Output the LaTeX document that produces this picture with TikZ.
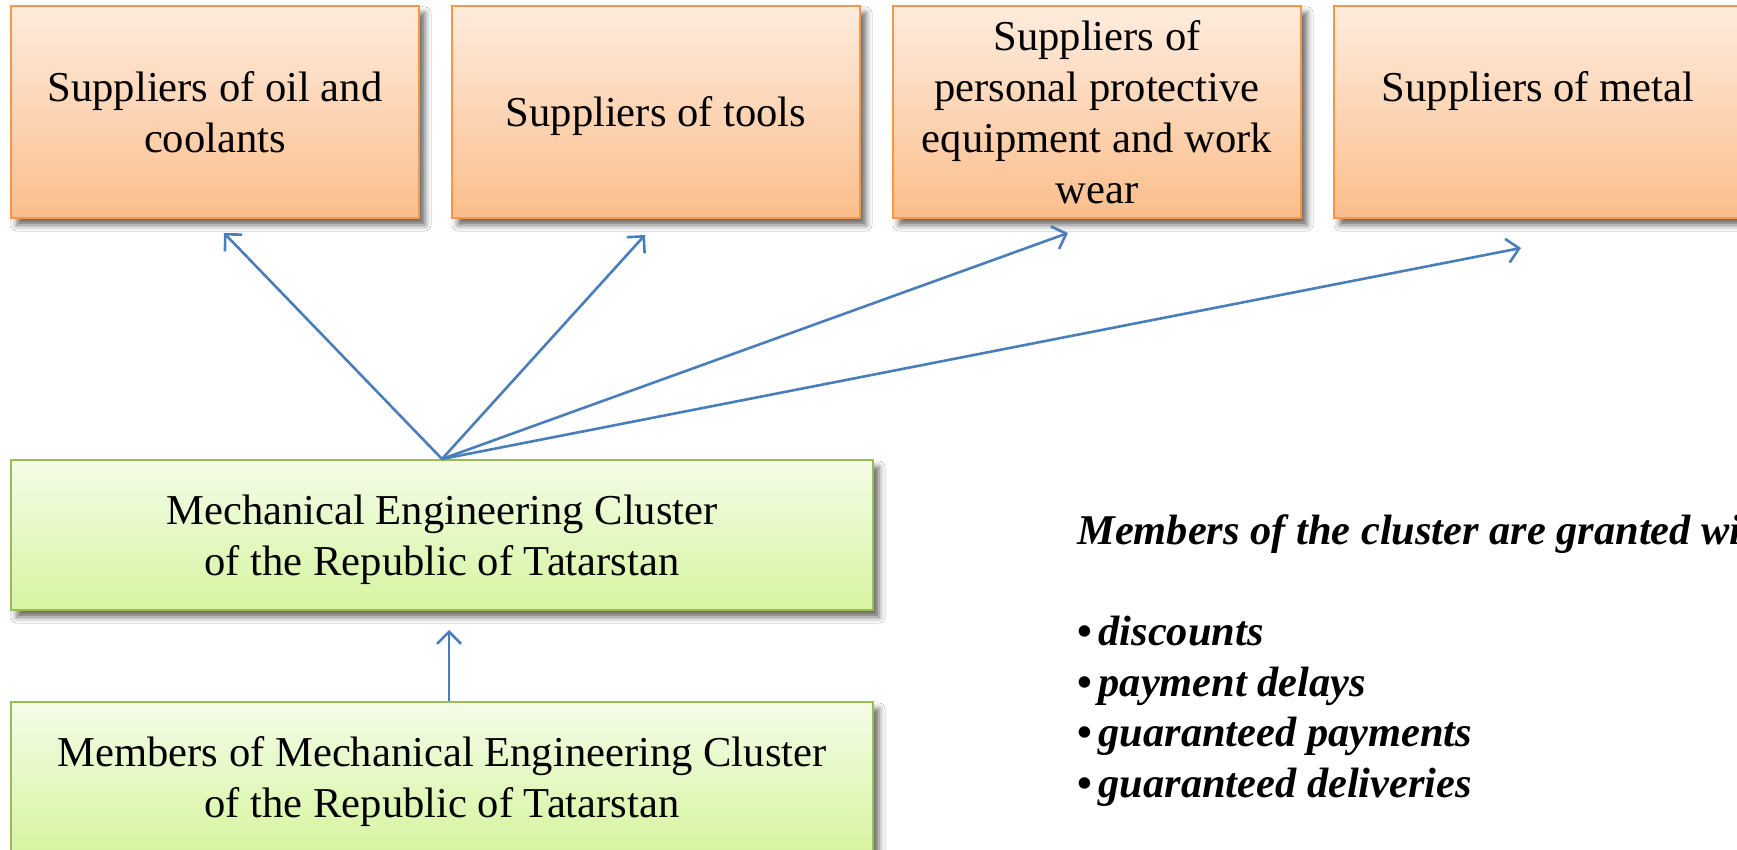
\documentclass[tikz,border=0pt]{standalone}
\usepackage{fontspec}
\setmainfont{Liberation Serif}
\usetikzlibrary{positioning}
\usetikzlibrary{arrows.meta}
\usetikzlibrary{shadows.blur}
\definecolor{supplyline}{HTML}{F79646}
\definecolor{supplytop}{RGB}{254,236,222}
\definecolor{supplybottom}{RGB}{251,190,140}
\definecolor{clusterline}{HTML}{9BBB59}
\definecolor{clustertop}{RGB}{244,252,232}
\definecolor{clusterbottom}{RGB}{214,245,160}
\definecolor{linkblue}{RGB}{74,126,187}
\tikzset{
    supplier/.style = {draw=supplyline, line width=1pt, 
                       top color=supplytop, bottom color=supplybottom,
                       minimum width=204pt, minimum height=106pt, 
                       inner sep=2pt, align=center, text depth=0pt,
                       font=\fontsize{21.3}{25.5}\selectfont,
                       blur shadow={shadow xshift=3pt, shadow yshift=-3.5pt,
                                    shadow blur radius=3pt, shadow opacity=60}
    },
    member box/.style = {draw=clusterline, line width=1pt, 
                         top color=clustertop, bottom color=clusterbottom,
                         minimum width=431pt, minimum height=75pt, 
                         inner sep=2pt, align=center, text depth=0pt,
                         font=\fontsize{21.3}{25.5}\selectfont,
                         blur shadow={shadow xshift=3pt, shadow yshift=-3.5pt,
                                      shadow blur radius=3pt, shadow opacity=60}
    },
    link/.style = {draw=linkblue, line width=1.3pt,
                   -{Straight Barb[length=6pt, width=12pt]}
    },
}

\begin{document}
\begin{tikzpicture}[x=0.5pt, y=-0.5pt]
    \clip (0,0) rectangle (1737,850);
    \fill[white] (0,0) rectangle (1737,850);
    % suppliers row
    \node (oil) [supplier] at (215,112) {Suppliers of oil and\\ coolants};
    \node (tools) [supplier, right=15.5pt of oil] {Suppliers of tools};
    \node (ppe) [supplier, right=15.5pt of tools] 
              {Suppliers of\\ personal protective\\ equipment and work\\ wear};
    \node (metal) [supplier, right=15.5pt of ppe] {Suppliers of metal\\ \mbox{}};
    % cluster
    \node (cluster) [member box] at (442,535) 
              {Mechanical Engineering Cluster\\ of the Republic of Tatarstan};
    \node (members) [member box, below=45pt of cluster] 
              {Members of Mechanical Engineering Cluster\\ of the Republic of Tatarstan};
    \node (perks) [anchor=north west, align=left, inner sep=0pt,
                   font=\fontsize{21.2}{25.3}\selectfont\bfseries\itshape] at (1077,514)
              {Members of the cluster are granted with\\[25.3pt]
               {\upshape •}\hspace{0.15em}discounts\\
               {\upshape •}\hspace{0.15em}payment delays\\
               {\upshape •}\hspace{0.15em}guaranteed payments\\
               {\upshape •}\hspace{0.15em}guaranteed deliveries};
    % arrows
    \coordinate (hub) at (cluster.north);
    \coordinate (oilend) at (224,233);
    \coordinate (toolsend) at (645,235);
    \coordinate (ppeend) at (1068,233);
    \coordinate (metalend) at (1521,248);
    \foreach \e in {oilend,toolsend,ppeend,metalend}
        \draw[link] (hub) -- (\e);
    \draw[link, shorten >=9.5pt] ([xshift=3.5pt]members.north) 
                                 -- ([xshift=3.5pt]cluster.south);
\end{tikzpicture}
\end{document}
